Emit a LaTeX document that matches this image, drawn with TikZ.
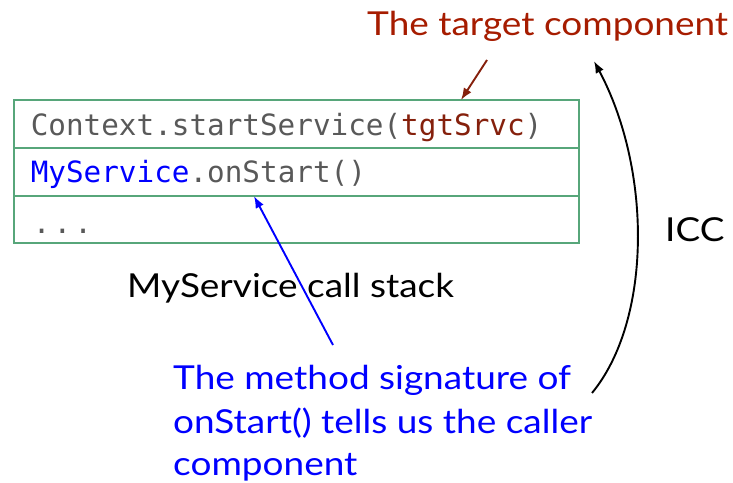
\documentclass[tikz,border=0pt]{standalone}
\usepackage{fontspec}
\setmainfont{Lato}[FakeStretch=1.12]
\setmonofont{DejaVu Sans Mono}
\usetikzlibrary{arrows.meta}
\definecolor{boxgreen}{RGB}{87,166,122}
\definecolor{codegray}{RGB}{89,89,89}
\definecolor{berry}{RGB}{133,32,12}
\definecolor{titlered}{RGB}{166,28,0}
\definecolor{noteblue}{RGB}{0,0,255}
\begin{document}
\begin{tikzpicture}[x=1pt,y=-1pt,
  frame/.style={draw=boxgreen, line width=1.6pt, text width=531pt,
    minimum height=48pt, inner xsep=17pt, inner ysep=0pt,
    text height=24pt, text depth=0pt, align=left, anchor=north west,
    font=\ttfamily\fontsize{29.3}{29.3}\selectfont, text=codegray},
  caption/.style={font=\fontsize{33}{44}\selectfont, anchor=base west,
    inner sep=0pt},
  ptr/.style={line width=1.9pt, -{Latex[length=12pt,width=9pt]}}]
\path[use as bounding box] (0,0) rectangle (733,482);

% call stack frames
\node[frame] (r1) at (13,99) {Context.startService(\textcolor{berry}{tgtSrvc})};
\node[frame, text height=22pt] (r2) at (13,147) {\textcolor{noteblue}{MyService}.onStart()};
\node[frame, minimum height=47pt, text height=28pt] (r3) at (13,195)
  {\kern2pt.\kern3.2pt.\kern3.2pt.};

% labels
\node[caption, text=titlered] (tgt) at (367,35) {The target component};
\node[caption] (stack) at (127,297) {MyService call stack};
\node[caption] (icc) at (665,241) {ICC};
\node[caption, text=noteblue] (sig1) at (173,389) {The method signature of};
\node[caption, text=noteblue] (sig2) at (173,433) {onStart() tells us the caller};
\node[caption, text=noteblue] (sig3) at (173,475) {component};

% connector end points
\coordinate (tgtTail) at (487,60);
\coordinate (tgtTip) at (461,100);
\coordinate (sigTail) at (333,345);
\coordinate (sigTip) at (254,196);
\coordinate (iccTail) at (592,393);
\coordinate (iccTip) at (594,61);

\draw[ptr, berry] (tgtTail) -- (tgtTip);
\draw[ptr, noteblue] (sigTail) -- (sigTip);
\draw[ptr, black] (iccTail) .. controls (652,320) and (652,170) .. (iccTip);
\end{tikzpicture}
\end{document}
